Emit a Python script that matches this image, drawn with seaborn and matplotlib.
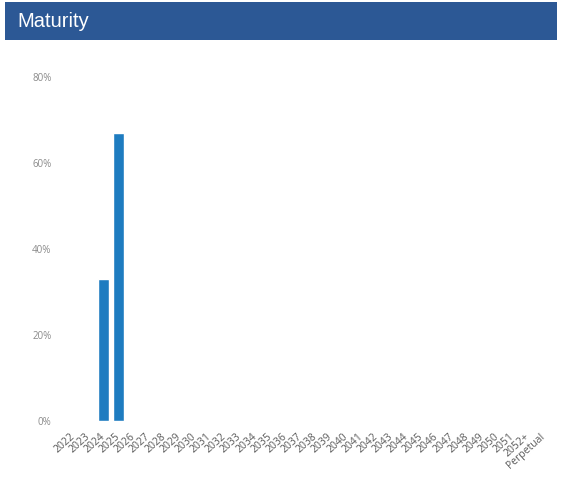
import matplotlib
matplotlib.use("Agg")
import matplotlib.pyplot as plt
import matplotlib.patches as mpatches
from matplotlib.ticker import PercentFormatter
import seaborn as sns
import pandas as pd

# Maturity buckets and share of holdings (%)
years = [str(y) for y in range(2022, 2052)] + ["2052+", "Perpetual"]
shares = [0, 0, 33.0, 67.0] + [0] * (len(years) - 4)

df = pd.DataFrame({"maturity": years, "share": shares})

sns.set_theme(style="white")
plt.rcParams["font.family"] = ["Open Sans", "DejaVu Sans"]

fig = plt.figure(figsize=(5.67, 5.01), dpi=100)

# Header banner
banner = mpatches.Rectangle((5 / 567, 1 - 40 / 501), 552 / 567, 38 / 501,
                            transform=fig.transFigure, facecolor="#2c5895",
                            edgecolor="none")
fig.patches.append(banner)
fig.text(17 / 567, 1 - 27 / 501, "Maturity", color="white", fontsize=14.5,
         family=["Liberation Sans", "DejaVu Sans"], va="baseline", ha="left")

ax = fig.add_axes([65.5 / 567, 1 - 421 / 501, 485 / 567, 344 / 501])
sns.barplot(data=df, x="maturity", y="share", color="#1e7cc0", width=0.72,
            saturation=1, ax=ax)

ax.set_ylim(0, 80)
ax.set_yticks([0, 20, 40, 60, 80])
ax.yaxis.set_major_formatter(PercentFormatter(decimals=0))
ax.set_xlim(-0.5, len(years) - 0.5)
ax.set_xlabel("")
ax.set_ylabel("")
for s in ax.spines.values():
    s.set_visible(False)
ax.tick_params(axis="y", labelsize=7, labelcolor="#8a8a8a", pad=10, length=0)
ax.tick_params(axis="x", labelsize=7.5, labelcolor="#5a5a5a", pad=10, length=0)
for lbl in ax.get_xticklabels():
    lbl.set_rotation(42)
    lbl.set_ha("right")
    lbl.set_va("center")
    lbl.set_rotation_mode("anchor")

fig.savefig("out.png", dpi=100, facecolor="white")
